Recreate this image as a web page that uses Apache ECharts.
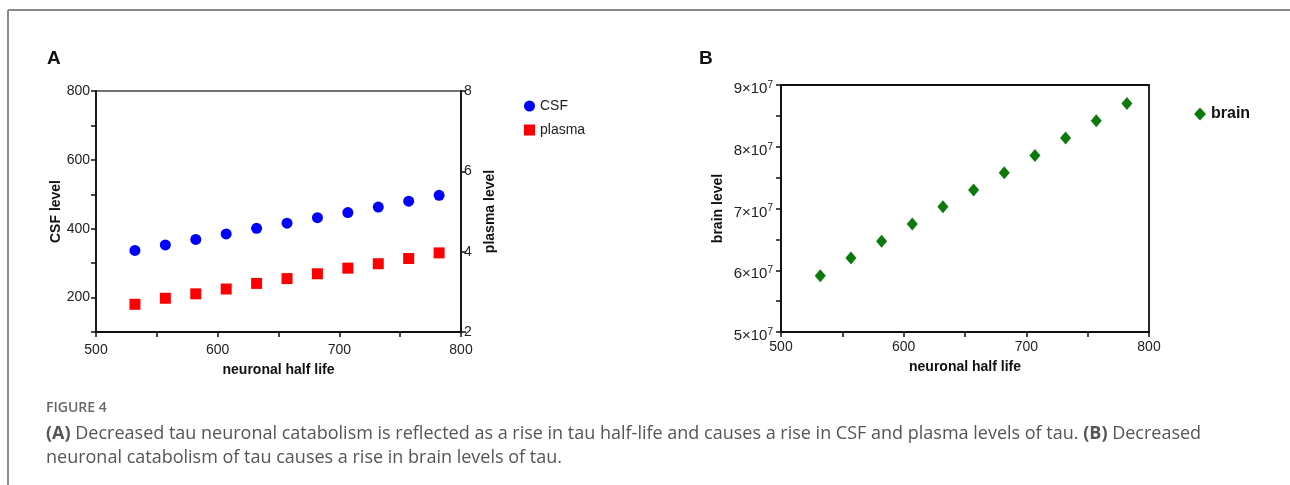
<!DOCTYPE html>
<html>
<head>
<meta charset="utf-8">
<script src="https://cdn.jsdelivr.net/npm/echarts@6/dist/echarts.min.js"></script>
<style>
  html, body { margin: 0; padding: 0; background: #fff; }
  #main { width: 1290px; height: 485px; }
</style>
</head>
<body>
<div id="main"></div>
<script>
// neuronal half life (x) shared by both panels
var halfLife = [532, 557, 582, 607, 632, 657, 682, 707, 732, 757, 782];
var csfLevel = [337, 353, 369, 385, 401, 416, 432, 447, 463, 480, 497];
var plasmaLevel = [2.69, 2.84, 2.95, 3.07, 3.21, 3.33, 3.45, 3.59, 3.70, 3.83, 3.97];
var brainLevel = [5.91e7, 6.20e7, 6.47e7, 6.75e7, 7.03e7, 7.30e7, 7.58e7, 7.86e7, 8.14e7, 8.42e7, 8.70e7];
var captionLine1 = '{b|(A)} Decreased tau neuronal catabolism is reflected as a rise in tau half-life and causes a rise in CSF and plasma levels of tau. {b|(B)} Decreased';
var captionLine2 = 'neuronal catabolism of tau causes a rise in brain levels of tau.';

function pairs(xs, ys) {
  var list = [];
  for (var i = 0; i < xs.length; i++) {
    list.push([xs[i], ys[i]]);
  }
  return list;
}

var font = 'Liberation Sans, Arial, sans-serif';
var capFont = 'Open Sans, sans-serif';
var axisLine = { show: true, lineStyle: { color: '#111', width: 1.8 } };
var axisTick = { show: true, inside: false, length: 5, lineStyle: { color: '#111', width: 1.5 } };
var labelStyle = { color: '#222', fontSize: 14, fontFamily: font };
var nameStyle = { color: '#111', fontSize: 14, fontWeight: 'bold', fontFamily: font };

function xAxisFor(gridIndex, margin, gap) {
  return {
    type: 'value', gridIndex: gridIndex,
    min: 500, max: 800, interval: 50,
    name: 'neuronal half life', nameLocation: 'middle', nameGap: gap,
    nameTextStyle: nameStyle,
    axisLine: axisLine, axisTick: axisTick,
    axisLabel: Object.assign({ margin: margin, formatter: function (v) { return v % 100 === 0 ? v : ''; } }, labelStyle),
    splitLine: { show: false }
  };
}

var myChart = echarts.init(document.getElementById('main'));
var option = {
  backgroundColor: '#fff',
  animation: false,
  textStyle: { fontFamily: font },
  grid: [
    { left: 96, top: 91, width: 365, height: 241, show: true, borderColor: '#444', borderWidth: 1.5 },
    { left: 781, top: 85, width: 368, height: 247, show: true, borderColor: '#111', borderWidth: 1.8 }
  ],
  legend: [
    {
      data: ['CSF', 'plasma'], orient: 'vertical', left: 519, top: 94,
      itemWidth: 11, itemHeight: 11, itemGap: 10,
      textStyle: { color: '#222', fontSize: 14, fontFamily: font }
    },
    {
      data: ['brain'], orient: 'vertical', left: 1189, top: 101,
      itemWidth: 12, itemHeight: 13,
      textStyle: { color: '#111', fontSize: 16, fontWeight: 'bold', fontFamily: font }
    }
  ],
  xAxis: [xAxisFor(0, 11, 31), xAxisFor(1, 8, 28)],
  yAxis: [
    {
      type: 'value', gridIndex: 0, min: 100, max: 800, interval: 100,
      name: 'CSF level', nameLocation: 'middle', nameGap: 33, nameTextStyle: nameStyle,
      axisLine: axisLine, axisTick: axisTick,
      axisLabel: Object.assign({ margin: 6, formatter: function (v) { return v % 200 === 0 ? v : ''; } }, labelStyle),
      splitLine: { show: false }
    },
    {
      type: 'value', gridIndex: 0, position: 'right', min: 2, max: 8, interval: 2,
      name: 'plasma level', nameLocation: 'middle', nameGap: 22, nameRotate: 90, nameTextStyle: nameStyle,
      axisLine: axisLine, axisTick: axisTick,
      axisLabel: Object.assign({ margin: 3 }, labelStyle),
      splitLine: { show: false }
    },
    {
      type: 'value', gridIndex: 1, min: 5e7, max: 9e7, interval: 0.5e7,
      name: 'brain level', nameLocation: 'middle', nameGap: 56, nameTextStyle: nameStyle,
      axisLine: axisLine, axisTick: axisTick,
      axisLabel: {
        margin: 8,
        padding: [8, 0, 0, 0],
        formatter: function (v) {
          var m = v / 1e7;
          if (Math.abs(m - Math.round(m)) > 1e-6) return '';
          return '{a|' + Math.round(m) + '×10}{s|7}';
        },
        rich: {
          a: { color: '#222', fontSize: 15, fontFamily: font },
          s: { color: '#222', fontSize: 10, fontFamily: font, padding: [0, 0, 8, 0] }
        }
      },
      splitLine: { show: false }
    }
  ],
  series: [
    {
      name: 'CSF', type: 'scatter', xAxisIndex: 0, yAxisIndex: 0,
      symbol: 'circle', symbolSize: 11,
      itemStyle: { color: '#0000ff', opacity: 1 },
      data: pairs(halfLife, csfLevel)
    },
    {
      name: 'plasma', type: 'scatter', xAxisIndex: 0, yAxisIndex: 1,
      symbol: 'rect', symbolSize: 11,
      itemStyle: { color: '#ff0000', opacity: 1 },
      data: pairs(halfLife, plasmaLevel)
    },
    {
      name: 'brain', type: 'scatter', xAxisIndex: 1, yAxisIndex: 2,
      symbol: 'diamond', symbolSize: [11, 13],
      itemStyle: { color: '#0b7a0b', opacity: 1 },
      data: pairs(halfLife, brainLevel)
    }
  ],
  graphic: [
    // figure frame
    { type: 'line', shape: { x1: 8, y1: 10, x2: 1290, y2: 10 }, style: { stroke: '#8a8a8a', lineWidth: 2 } },
    { type: 'line', shape: { x1: 8, y1: 10, x2: 8, y2: 485 }, style: { stroke: '#8a8a8a', lineWidth: 2 } },
    // panel letters
    { type: 'text', left: 47, top: 49, style: { text: 'A', fontSize: 19, fontWeight: 'bold', fill: '#111', fontFamily: font } },
    { type: 'text', left: 699, top: 49, style: { text: 'B', fontSize: 19, fontWeight: 'bold', fill: '#111', fontFamily: font } },
    // caption
    { type: 'text', left: 46, top: 401, style: { text: 'FIGURE 4', fontSize: 14, fontWeight: 600, fill: '#666', fontFamily: capFont } },
    {
      type: 'text', left: 46, top: 425,
      style: {
        text: captionLine1, fontSize: 18, fill: '#555', fontFamily: capFont,
        rich: { b: { fontSize: 18, fontWeight: 'bold', fill: '#555', fontFamily: capFont } }
      }
    },
    { type: 'text', left: 46, top: 449, style: { text: captionLine2, fontSize: 18, fill: '#555', fontFamily: capFont } }
  ]
};
myChart.setOption(option);
</script>
</body>
</html>
